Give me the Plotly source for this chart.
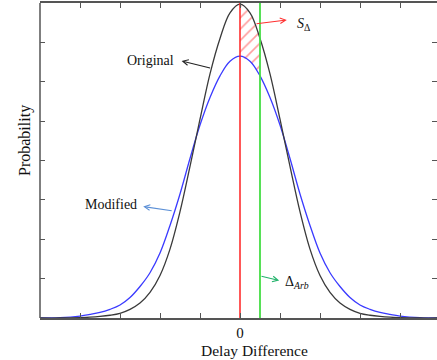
import plotly.graph_objects as go

# ---- data ----
delay = [-5, -4.5, -4, -3.75, -3.5, -3.25, -3, -2.75, -2.5, -2.25, -2, -1.75, -1.5, -1.25, -1, -0.75, -0.5, -0.25,
         0, 0.25, 0.5, 0.75, 1, 1.25, 1.5, 1.75, 2, 2.25, 2.5, 2.75, 3, 3.25, 3.5, 3.75, 4, 4.5, 5]
original = [0, 0, 0.01, 0.02, 0.04, 0.07, 0.12, 0.22, 0.38, 0.65, 1.08, 1.75, 2.7, 3.85, 5.05, 6.2, 7.1, 7.75,
            7.97, 7.75, 7.1, 6.2, 5.05, 3.85, 2.7, 1.75, 1.08, 0.65, 0.38, 0.22, 0.12, 0.07, 0.04, 0.02, 0.01, 0, 0]
modified = [0, 0.01, 0.05, 0.09, 0.14, 0.22, 0.33, 0.52, 0.8, 1.15, 1.65, 2.35, 3.15, 4.05, 4.9, 5.6, 6.15, 6.52,
            6.65, 6.52, 6.15, 5.6, 4.9, 4.05, 3.15, 2.35, 1.65, 1.15, 0.8, 0.52, 0.33, 0.22, 0.14, 0.09, 0.05, 0.01, 0]
ref_delay = 0.0     # red line
arb_delay = 0.5     # green line (Delta_Arb)
x_ticks = [-4, -3, -2, -1, 0, 1, 2, 3, 4]
x_tick_labels = ["", "", "", "", "0", "", "", "", ""]
y_ticks = [1, 2, 3, 4, 5, 6, 7, 8]

SERIF = "Liberation Serif, Times New Roman, serif"

fig = go.Figure()

# hatched area S_Delta between the two curves for ref_delay <= x <= arb_delay
idx = [i for i, d in enumerate(delay) if ref_delay <= d <= arb_delay]
hx = [delay[i] for i in idx] + [delay[i] for i in reversed(idx)]
hy = [original[i] for i in idx] + [modified[i] for i in reversed(idx)]
fig.add_trace(go.Scatter(
    x=hx, y=hy, mode="lines", fill="toself", line=dict(width=0),
    fillcolor="rgba(0,0,0,0)",
    fillpattern=dict(shape="/", fgcolor="#ff3b3b", bgcolor="rgba(0,0,0,0)", size=8, solidity=0.2),
    hoverinfo="skip", showlegend=False))

fig.add_trace(go.Scatter(x=delay, y=modified, mode="lines", line=dict(color="#3a3aff", width=1.3, shape="spline"),
                         showlegend=False))
fig.add_trace(go.Scatter(x=delay, y=original, mode="lines", line=dict(color="#3a3a3a", width=1.3, shape="spline"),
                         showlegend=False))

# vertical lines
fig.add_trace(go.Scatter(x=[ref_delay, ref_delay], y=[0, 8], mode="lines", line=dict(color="#ff2020", width=1.5),
                         showlegend=False))
fig.add_trace(go.Scatter(x=[arb_delay, arb_delay], y=[0, 8], mode="lines", line=dict(color="#44dd44", width=1.8),
                         showlegend=False))

ann = []
def arrow(hx_, hy_, tx, ty, color):
    ann.append(dict(x=hx_, y=hy_, ax=tx, ay=ty, xref="x", yref="y", axref="x", ayref="y", text="",
                    showarrow=True, arrowhead=5, arrowsize=1, arrowwidth=1.1, arrowcolor=color))

def label(x, y, t, size=14):
    ann.append(dict(x=x, y=y, xref="x", yref="y", text=t, showarrow=False,
                    font=dict(family=SERIF, size=size, color="#111")))

label(-2.25, 6.53, "Original")
arrow(-1.46, 6.53, -0.71, 6.34, "#222222")
label(-3.22, 2.87, "Modified")
arrow(-2.42, 2.83, -1.67, 2.72, "#5b8fd6")
label(1.58, 7.45, "<i>S</i><sub>Δ</sub>", 14)
arrow(1.17, 7.57, 0.375, 7.47, "#ff3030")
label(1.42, 0.9, "Δ<sub><i>Arb</i></sub>", 14)
arrow(0.98, 0.95, arb_delay, 1.07, "#22b36b")

# axis titles
ann.append(dict(x=0.35, y=0, xref="x", yref="paper", yshift=-32, yanchor="middle", text="Delay Difference",
                showarrow=False, font=dict(family=SERIF, size=15.5, color="#111")))
ann.append(dict(x=0, y=0.562, xref="paper", yref="paper", xshift=-15, xanchor="center", text="Probability",
                showarrow=False, textangle=-90, font=dict(family=SERIF, size=16, color="#111")))

fig.update_layout(
    width=437, height=360,
    margin=dict(l=40, r=0, t=3, b=42),
    plot_bgcolor="white", paper_bgcolor="white",
    annotations=ann,
    shapes=[dict(type="line", xref="paper", yref="paper", x0=0, x1=0, y0=0, y1=1,
                 line=dict(color="#555", width=1.5))],
    xaxis=dict(range=[-5, 4.925], tickvals=x_ticks, ticktext=x_tick_labels, ticks="inside", ticklen=5,
               tickcolor="#555", tickwidth=1.2, showline=True, linecolor="#555", linewidth=1.5, mirror="ticks",
               showgrid=False, zeroline=False, tickfont=dict(family=SERIF, size=15, color="#111")),
    yaxis=dict(range=[0, 8], tickvals=y_ticks, showticklabels=False, ticks="inside", ticklen=5,
               tickcolor="#555", tickwidth=1.2, showline=False, mirror="ticks",
               showgrid=False, zeroline=False),
)

fig.write_html("out.html", config={"displayModeBar": False},
               post_script="document.body.style.margin='0';document.body.style.overflow='hidden';")
